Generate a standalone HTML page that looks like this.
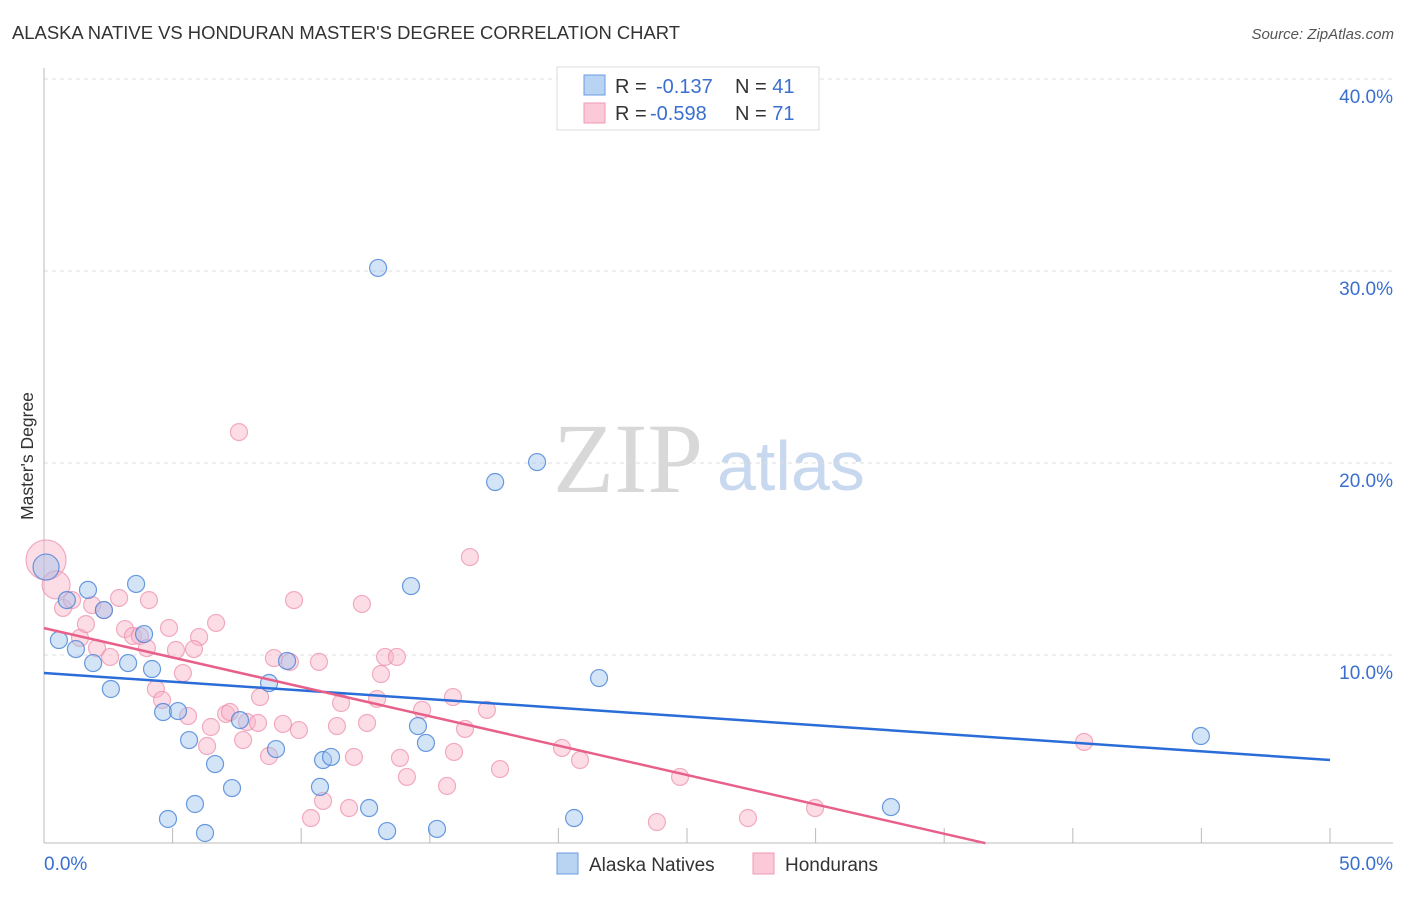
<!DOCTYPE html>
<html><head><meta charset="utf-8"><style>
body{margin:0;background:#fff;font-family:"Liberation Sans",sans-serif;}
</style></head><body>
<svg id="chart" width="1406" height="892" viewBox="0 0 1406 892" font-family="Liberation Sans, sans-serif">
<text x="12" y="39" font-size="18" fill="#333" textLength="668" lengthAdjust="spacingAndGlyphs">ALASKA NATIVE VS HONDURAN MASTER'S DEGREE CORRELATION CHART</text>
<text x="1394" y="39" font-size="15" fill="#555" text-anchor="end" font-style="italic">Source: ZipAtlas.com</text>
<text x="0" y="0" transform="translate(33,456) rotate(-90)" font-size="17.5" fill="#333" text-anchor="middle">Master's Degree</text>
<g>
<text x="553" y="492" style="font-family:'Liberation Serif',serif;font-size:100px" fill="#d8d8d8">ZIP</text>
<text x="717" y="490" style="font-family:'Liberation Sans',sans-serif;font-size:70px" fill="#c8d8ee">atlas</text>
</g>
<g id="grid"></g>
<g id="axes"></g>
<g id="marks"></g>
<g id="lines"></g>
<g>
<rect x="557" y="67" width="262" height="63" fill="#fff" stroke="#ddd"/>
<rect x="584" y="75" width="21" height="20" fill="#b9d3f3" stroke="#6a9be0"/>
<rect x="584" y="103" width="21" height="20" fill="#fcc9d8" stroke="#ee9ab3"/>
<text x="615" y="93" font-size="20" fill="#333">R = <tspan x="656" fill="#3a6fd0">-0.137</tspan></text>
<text x="735" y="93" font-size="20" fill="#333">N = <tspan fill="#3a6fd0">41</tspan></text>
<text x="615" y="120" font-size="20" fill="#333">R = <tspan x="650" fill="#3a6fd0">-0.598</tspan></text>
<text x="735" y="120" font-size="20" fill="#333">N = <tspan fill="#3a6fd0">71</tspan></text>
</g>
<g>
<rect x="557" y="853" width="21" height="21" fill="#b9d3f3" stroke="#6a9be0"/>
<text x="589" y="871" font-size="19" fill="#333">Alaska Natives</text>
<rect x="753" y="853" width="21" height="21" fill="#fcc9d8" stroke="#ee9ab3"/>
<text x="785" y="871" font-size="19" fill="#333">Hondurans</text>
</g>
</svg>
<script>
const yTicks=[10,20,30,40];
const yTickLabels=["10.0%","20.0%","30.0%","40.0%"];
const xTickLabels=["0.0%","50.0%"];
const blueX=[0.08,0.89,1.71,2.33,3.58,3.89,0.58,1.24,1.91,3.27,4.20,2.60,4.63,5.21,5.64,6.65,5.87,4.82,7.31,6.26,8.75,9.45,7.62,9.02,10.85,11.16,10.73,12.64,13.34,14.54,14.85,15.28,12.99,19.17,17.54,14.27,21.58,20.61,32.93,44.98];
const blueY=[14.58,12.86,13.39,12.34,13.70,11.09,10.78,10.31,9.58,9.58,9.27,8.23,7.03,7.08,5.57,4.32,2.24,1.46,3.07,0.73,8.54,9.69,6.61,5.10,4.53,4.69,3.13,2.03,0.83,6.30,5.42,0.94,30.16,20.05,19.01,13.59,8.80,1.51,2.08,5.78];
const pinkX=[0.08,0.47,0.74,1.09,1.87,2.33,2.92,4.08,1.40,1.63,2.06,2.57,3.15,3.46,3.73,4.00,4.86,5.13,5.40,4.35,4.59,5.60,6.03,5.83,6.69,6.34,6.49,7.08,7.23,7.74,7.89,8.32,8.40,8.75,8.94,9.56,9.29,9.91,9.72,10.38,10.85,10.69,11.39,11.55,11.86,12.05,12.36,12.56,12.95,13.10,13.26,13.72,13.84,14.11,14.70,15.67,15.90,15.94,16.37,16.56,17.22,17.73,20.14,20.84,24.73,23.83,27.37,29.98,40.44,7.58];
const pinkY=[14.95,13.65,12.45,12.86,12.60,12.34,12.97,12.86,10.89,11.61,10.36,9.90,11.35,10.99,10.99,10.36,11.41,10.26,9.06,8.23,7.66,6.82,10.94,10.31,11.67,5.26,6.25,6.93,7.03,5.57,6.51,6.46,7.81,4.74,9.84,9.64,6.41,6.09,12.86,1.51,2.40,9.64,6.30,7.50,2.03,4.69,12.66,6.46,7.71,9.01,9.90,9.90,4.64,3.65,7.14,3.18,7.81,4.95,6.15,15.10,7.14,4.06,5.16,4.53,3.65,1.30,1.51,2.03,5.47,21.61];
const blueTrend=[9.06,4.53];
const pinkTrend=[11.4,-0.306];
const NS="http://www.w3.org/2000/svg";
const X0=44,X1=1330,YB=847,YPX=19.2;
const sx=v=>X0+v/50*(X1-X0);
const sy=v=>YB-v*YPX;
function mk(tag,attrs,parent){const e=document.createElementNS(NS,tag);for(const k in attrs)e.setAttribute(k,attrs[k]);parent.appendChild(e);return e;}
const grid=document.getElementById('grid'),axes=document.getElementById('axes'),marks=document.getElementById('marks'),lines=document.getElementById('lines');
yTicks.forEach((t,i)=>{
 const g=mk('line',{x1:44,x2:1393,y1:sy(t),y2:sy(t),stroke:'#ddd','stroke-dasharray':'4,4'},grid);
 
 
 const tx=mk('text',{x:1393,y:sy(t)+24,'font-size':19,fill:'#3a6fd0','text-anchor':'end'},axes);
 tx.textContent=yTickLabels[i];
 
 
});
const ax=mk('line',{x1:44,x2:1393,y1:843,y2:843,stroke:'#bbb'},axes);


const ay=mk('line',{x1:44,x2:44,y1:68,y2:843,stroke:'#bbb'},axes);


for(let i=1;i<=10;i++){
 const t=mk('line',{x1:sx(i*5),x2:sx(i*5),y1:828,y2:843,stroke:'#bbb'},axes);
 
 
}
const l0=mk('text',{x:44,y:870,'font-size':19,fill:'#3a6fd0'},axes);l0.textContent=xTickLabels[0];


const l1=mk('text',{x:1393,y:870,'font-size':19,fill:'#3a6fd0','text-anchor':'end'},axes);l1.textContent=xTickLabels[1];


pinkX.forEach((v,i)=>{
 const r=i===0?20:(i===1?14:8.5);
 const c=mk('circle',{cx:sx(v),cy:sy(pinkY[i]),r:r,fill:'rgba(248,180,200,0.45)',stroke:'rgba(236,140,170,0.7)','stroke-width':1.2},marks);
 
 
});
blueX.forEach((v,i)=>{
 const r=i===0?13:8.5;
 const c=mk('circle',{cx:sx(v),cy:sy(blueY[i]),r:r,fill:'rgba(160,195,238,0.45)',stroke:'rgba(70,130,215,0.8)','stroke-width':1.2},marks);
 
 
});
const bl=mk('line',{x1:sx(0),y1:sy(blueTrend[0]),x2:sx(50),y2:sy(blueTrend[1]),stroke:'#2a6dd8','stroke-width':2.5},lines);


const pend=Math.min(50,(pinkTrend[0]-0.2)/-pinkTrend[1]);
const pl=mk('line',{x1:sx(0),y1:sy(pinkTrend[0]),x2:sx(pend),y2:sy(pinkTrend[0]+pinkTrend[1]*pend),stroke:'#e8608a','stroke-width':2.5},lines);


</script>
</body></html>
